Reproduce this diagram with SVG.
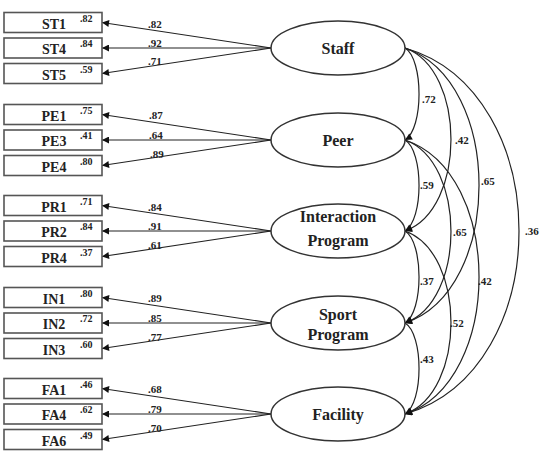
<svg xmlns="http://www.w3.org/2000/svg" width="541" height="460" viewBox="0 0 541 460">
<defs>
<marker id="ah" viewBox="0 0 10 10" refX="10" refY="5" markerWidth="9" markerHeight="7" markerUnits="userSpaceOnUse" orient="auto">
<path d="M0,0 L10,5 L0,10 z" fill="#111"/>
</marker>
<style>
.box{fill:#fff;stroke:#555;stroke-width:1.6}
.ell{fill:#fff;stroke:#333;stroke-width:1.5}
.ln{fill:none;stroke:#222;stroke-width:1.2;marker-end:url(#ah)}
.bt{font-family:"Liberation Serif",serif;font-weight:bold;font-size:14px;fill:#222;text-anchor:middle}
.r2{font-family:"Liberation Serif",serif;font-weight:bold;font-size:10px;fill:#222}
.et{font-family:"Liberation Serif",serif;font-weight:bold;font-size:16px;fill:#222;text-anchor:middle}
.lb{font-family:"Liberation Serif",serif;font-weight:bold;font-size:11px;fill:#222}
</style>
</defs>
<rect width="541" height="460" fill="#fff"/>

<g id="connectors">
<!-- Staff loadings -->
<path class="ln" d="M271,48 L102,22.5"/>
<path class="ln" d="M271,48 L102,48"/>
<path class="ln" d="M271,48 L102,73.5"/>
<!-- Peer -->
<path class="ln" d="M271,140 L102,114.5"/>
<path class="ln" d="M271,140 L102,140"/>
<path class="ln" d="M271,140 L102,165.5"/>
<!-- Interaction -->
<path class="ln" d="M271,231 L102,205.5"/>
<path class="ln" d="M271,231 L102,231"/>
<path class="ln" d="M271,231 L102,256.5"/>
<!-- Sport -->
<path class="ln" d="M271,323 L102,297.5"/>
<path class="ln" d="M271,323 L102,323"/>
<path class="ln" d="M271,323 L102,348.5"/>
<!-- Facility -->
<path class="ln" d="M271,414 L102,388.5"/>
<path class="ln" d="M271,414 L102,414"/>
<path class="ln" d="M271,414 L102,439.5"/>

<!-- covariances -->
<path class="ln" d="M405,48 C423.7,59 423.7,129 405,140"/>
<path class="ln" d="M405,48 C466.3,70 466.3,209 405,231"/>
<path class="ln" d="M405,48 C503.7,81 503.7,290 405,323"/>
<path class="ln" d="M405,48 C557,92 557,370 405,414"/>
<path class="ln" d="M405,140 C423.7,151 423.7,220 405,231"/>
<path class="ln" d="M405,140 C466.3,162 466.3,301 405,323"/>
<path class="ln" d="M405,140 C503.7,173 503.7,381 405,414"/>
<path class="ln" d="M405,231 C423.7,242 423.7,312 405,323"/>
<path class="ln" d="M405,231 C466.3,253 466.3,392 405,414"/>
<path class="ln" d="M405,323 C423.7,334 423.7,403 405,414"/>

<!-- loading labels -->
<text class="lb" x="148" y="28">.82</text>
<text class="lb" x="148" y="46.5">.92</text>
<text class="lb" x="148" y="65">.71</text>
<text class="lb" x="149" y="119">.87</text>
<text class="lb" x="149" y="139">.64</text>
<text class="lb" x="150" y="158">.89</text>
<text class="lb" x="148" y="211">.84</text>
<text class="lb" x="148" y="230">.91</text>
<text class="lb" x="148" y="249">.61</text>
<text class="lb" x="148" y="302">.89</text>
<text class="lb" x="148" y="322">.85</text>
<text class="lb" x="148" y="341">.77</text>
<text class="lb" x="148" y="393">.68</text>
<text class="lb" x="148" y="413">.79</text>
<text class="lb" x="148" y="432">.70</text>

<!-- covariance labels -->
<text class="lb" x="422" y="103">.72</text>
<text class="lb" x="455" y="144">.42</text>
<text class="lb" x="481" y="185">.65</text>
<text class="lb" x="525" y="235">.36</text>
<text class="lb" x="420" y="189">.59</text>
<text class="lb" x="453" y="236">.65</text>
<text class="lb" x="478" y="285">.42</text>
<text class="lb" x="420" y="285">.37</text>
<text class="lb" x="450" y="327">.52</text>
<text class="lb" x="420" y="363">.43</text>
</g>

<g id="ST1"><rect class="box" x="4" y="12.5" width="98" height="20"/><text class="bt" x="54" y="28.5">ST1</text><text class="r2" x="80" y="21.5">.82</text></g>
<g id="ST4"><rect class="box" x="4" y="38" width="98" height="20"/><text class="bt" x="54" y="54">ST4</text><text class="r2" x="80" y="47">.84</text></g>
<g id="ST5"><rect class="box" x="4" y="63.5" width="98" height="20"/><text class="bt" x="54" y="79.5">ST5</text><text class="r2" x="80" y="72.5">.59</text></g>

<g id="PE1"><rect class="box" x="4" y="104.5" width="98" height="20"/><text class="bt" x="54" y="120.5">PE1</text><text class="r2" x="80" y="113.5">.75</text></g>
<g id="PE3"><rect class="box" x="4" y="130" width="98" height="20"/><text class="bt" x="54" y="146">PE3</text><text class="r2" x="80" y="139">.41</text></g>
<g id="PE4"><rect class="box" x="4" y="155.5" width="98" height="20"/><text class="bt" x="54" y="171.5">PE4</text><text class="r2" x="80" y="164.5">.80</text></g>

<g id="PR1"><rect class="box" x="4" y="195.5" width="98" height="20"/><text class="bt" x="54" y="211.5">PR1</text><text class="r2" x="80" y="204.5">.71</text></g>
<g id="PR2"><rect class="box" x="4" y="221" width="98" height="20"/><text class="bt" x="54" y="237">PR2</text><text class="r2" x="80" y="230">.84</text></g>
<g id="PR4"><rect class="box" x="4" y="246.5" width="98" height="20"/><text class="bt" x="54" y="262.5">PR4</text><text class="r2" x="80" y="255.5">.37</text></g>

<g id="IN1"><rect class="box" x="4" y="287.5" width="98" height="20"/><text class="bt" x="54" y="303.5">IN1</text><text class="r2" x="80" y="296.5">.80</text></g>
<g id="IN2"><rect class="box" x="4" y="313" width="98" height="20"/><text class="bt" x="54" y="329">IN2</text><text class="r2" x="80" y="322">.72</text></g>
<g id="IN3"><rect class="box" x="4" y="338.5" width="98" height="20"/><text class="bt" x="54" y="354.5">IN3</text><text class="r2" x="80" y="347.5">.60</text></g>

<g id="FA1"><rect class="box" x="4" y="378.5" width="98" height="20"/><text class="bt" x="54" y="394.5">FA1</text><text class="r2" x="80" y="387.5">.46</text></g>
<g id="FA4"><rect class="box" x="4" y="404" width="98" height="20"/><text class="bt" x="54" y="420">FA4</text><text class="r2" x="80" y="413">.62</text></g>
<g id="FA6"><rect class="box" x="4" y="429.5" width="98" height="20"/><text class="bt" x="54" y="445.5">FA6</text><text class="r2" x="80" y="438.5">.49</text></g>

<g id="Staff"><ellipse class="ell" cx="338" cy="48" rx="67" ry="27"/><text class="et" x="338" y="54">Staff</text></g>
<g id="Peer"><ellipse class="ell" cx="338" cy="140" rx="67" ry="27"/><text class="et" x="338" y="146">Peer</text></g>
<g id="Interaction"><ellipse class="ell" cx="338" cy="231" rx="67" ry="27"/><text class="et" x="338" y="222">Interaction</text><text class="et" x="338" y="246">Program</text></g>
<g id="Sport"><ellipse class="ell" cx="338" cy="323" rx="67" ry="27"/><text class="et" x="338" y="320">Sport</text><text class="et" x="338" y="340">Program</text></g>
<g id="Facility"><ellipse class="ell" cx="338" cy="414" rx="67" ry="27"/><text class="et" x="338" y="420">Facility</text></g>
</svg>
